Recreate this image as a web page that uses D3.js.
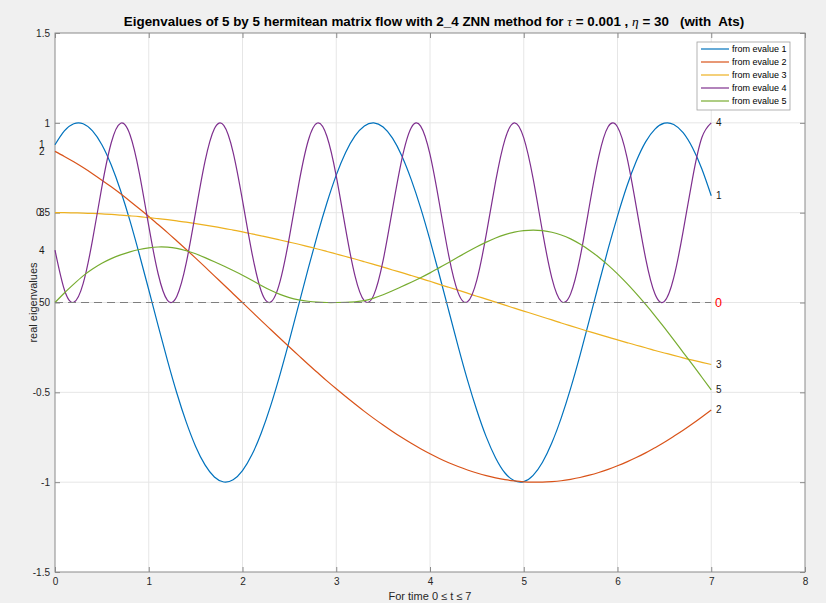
<!DOCTYPE html>
<html>
<head>
<meta charset="utf-8">
<script src="https://cdn.jsdelivr.net/npm/d3@7"></script>
<style>
  html, body { margin: 0; padding: 0; background: #f0f0f0; }
  svg { display: block; font-family: "Liberation Sans", Arial, Helvetica, sans-serif; }
</style>
</head>
<body>
<svg id="chart" width="826" height="603"></svg>
<script>
// ---------------- data ----------------
const times = [0,0.1,0.2,0.3,0.4,0.5,0.6,0.7,0.8,0.9,1,1.1,1.2,1.3,1.4,1.5,1.6,1.7,1.8,1.9,2,2.1,2.2,2.3,2.4,2.5,2.6,2.7,2.8,2.9,3,3.1,3.2,3.3,3.4,3.5,3.6,3.7,3.8,3.9,4,4.1,4.2,4.3,4.4,4.5,4.6,4.7,4.8,4.9,5,5.1,5.2,5.3,5.4,5.5,5.6,5.7,5.8,5.9,6,6.1,6.2,6.3,6.4,6.5,6.6,6.7,6.8,6.9,7];

const evalue1 = [0.878,0.955,0.995,0.995,0.955,0.878,0.765,0.622,0.454,0.267,
  0.071,-0.129,-0.323,-0.505,-0.666,-0.801,-0.904,-0.971,-0.999,-0.987,
  -0.936,-0.848,-0.726,-0.575,-0.401,-0.211,-0.012,0.187,0.378,0.554,
  0.709,0.835,0.927,0.983,1.000,0.977,0.915,0.816,0.684,0.527,
  0.347,0.153,-0.046,-0.244,-0.432,-0.601,-0.748,-0.865,-0.949,-0.992,
  -0.997,-0.962,-0.889,-0.781,-0.642,-0.478,-0.294,-0.097,0.103,0.298,
  0.481,0.647,0.786,0.894,0.965,0.998,0.991,0.945,0.861,0.743,0.594];

const evalue2 = [0.841,0.813,0.783,0.751,0.717,0.681,0.644,0.605,0.564,0.522,
  0.479,0.434,0.389,0.342,0.295,0.247,0.198,0.148,0.099,0.049,
  -0.001,-0.051,-0.101,-0.150,-0.199,-0.248,-0.296,-0.344,-0.390,-0.436,
  -0.480,-0.523,-0.565,-0.606,-0.645,-0.682,-0.718,-0.752,-0.784,-0.814,
  -0.842,-0.868,-0.892,-0.913,-0.932,-0.949,-0.964,-0.976,-0.986,-0.993,
  -0.998,-1.000,-1.000,-0.997,-0.992,-0.984,-0.974,-0.961,-0.946,-0.929,
  -0.909,-0.887,-0.863,-0.837,-0.808,-0.778,-0.745,-0.711,-0.675,-0.637,-0.598];

const evalue3 = [0.500,0.500,0.499,0.498,0.496,0.493,0.490,0.486,0.482,0.478,
  0.472,0.467,0.461,0.454,0.447,0.439,0.431,0.422,0.413,0.403,
  0.393,0.382,0.371,0.360,0.348,0.336,0.324,0.311,0.298,0.284,
  0.270,0.256,0.242,0.227,0.212,0.197,0.181,0.166,0.150,0.134,
  0.118,0.101,0.085,0.069,0.052,0.035,0.019,0.002,-0.015,-0.031,
  -0.048,-0.064,-0.081,-0.097,-0.114,-0.130,-0.146,-0.162,-0.177,-0.193,
  -0.208,-0.223,-0.238,-0.252,-0.267,-0.281,-0.294,-0.308,-0.321,-0.333,-0.345];

const evalue4 = [0.291,0.071,0.001,0.105,0.347,0.643,0.889,0.998,0.934,0.719,
  0.426,0.160,0.012,0.035,0.220,0.503,0.785,0.967,0.986,0.836,
  0.568,0.278,0.063,0.002,0.116,0.364,0.659,0.899,0.999,0.925,
  0.704,0.410,0.148,0.009,0.041,0.234,0.520,0.798,0.973,0.982,
  0.824,0.551,0.261,0.055,0.004,0.126,0.379,0.674,0.908,1.000,
  0.916,0.689,0.394,0.136,0.006,0.048,0.248,0.537,0.812,0.978,
  0.977,0.811,0.534,0.246,0.047,0.006,0.138,0.396,0.690,0.918,1.000];

const evalue5 = [0.000,0.053,0.102,0.148,0.186,0.218,0.244,0.265,0.282,0.295,
  0.304,0.309,0.308,0.301,0.288,0.271,0.250,0.227,0.203,0.178,
  0.152,0.124,0.095,0.068,0.045,0.027,0.015,0.007,0.002,0.000,
  0.000,0.001,0.004,0.010,0.024,0.043,0.065,0.089,0.113,0.138,
  0.165,0.194,0.223,0.253,0.282,0.310,0.336,0.359,0.378,0.392,
  0.400,0.403,0.400,0.391,0.376,0.354,0.325,0.291,0.252,0.208,
  0.159,0.106,0.049,-0.011,-0.074,-0.140,-0.208,-0.277,-0.346,-0.416,-0.486];

const seriesNames = ["from evalue 1","from evalue 2","from evalue 3","from evalue 4","from evalue 5"];
const seriesTags = ["1","2","3","4","5"];
const seriesColors = ["#0072BD","#D95319","#EDB120","#7E2F8E","#77AC30"];
const seriesValues = [evalue1, evalue2, evalue3, evalue4, evalue5];

const xTicks = [0,1,2,3,4,5,6,7,8];
const xTickLabels = ["0","1","2","3","4","5","6","7","8"];
const yTicks = [-1.5,-1,-0.5,0,0.5,1,1.5];
const yTickLabels = ["-1.5","-1","-0.5","0","0.5","1","1.5"];

const titleText = "Eigenvalues of 5 by 5 hermitean matrix flow with 2_4 ZNN method for ";
const xLabel = "For time 0 \u2264 t \u2264 7";
const yLabel = "real eigenvalues";

// ---------------- layout ----------------
const svg = d3.select("#chart");
const L = 55, R = 805, T = 33, B = 572;
const x = d3.scaleLinear().domain([0, 8]).range([L, R]);
const y = d3.scaleLinear().domain([-1.5, 1.5]).range([B, T]);

svg.append("rect").attr("width", 826).attr("height", 603).attr("fill", "#f0f0f0");
svg.append("rect").attr("x", L).attr("y", T).attr("width", R - L).attr("height", B - T).attr("fill", "#ffffff");

// grid
const grid = svg.append("g").attr("class", "grid");
grid.selectAll("line.gx").data(xTicks.slice(1, -1)).join("line")
  .attr("x1", d => x(d)).attr("x2", d => x(d)).attr("y1", T).attr("y2", B)
  .attr("stroke", "#e6e6e6").attr("stroke-width", 1);
grid.selectAll("line.gy").data(yTicks.slice(1, -1)).join("line")
  .attr("y1", d => y(d)).attr("y2", d => y(d)).attr("x1", L).attr("x2", R)
  .attr("stroke", "#e6e6e6").attr("stroke-width", 1);

// axes
const axisColor = "#8a8a8a";
function styleAxis(g) {
  g.select(".domain").remove();
  g.selectAll(".tick line").attr("stroke", axisColor);
  g.selectAll(".tick text").attr("fill", "#262626").attr("font-size", 10);
}
svg.append("g").attr("transform", `translate(0,${B})`)
  .call(d3.axisBottom(x).tickValues(xTicks).tickFormat((d, i) => xTickLabels[i]).tickSizeInner(-5).tickSizeOuter(0).tickPadding(6))
  .call(styleAxis);
svg.append("g").attr("transform", `translate(0,${T})`)
  .call(d3.axisTop(x).tickValues(xTicks).tickFormat("").tickSizeInner(-5).tickSizeOuter(0))
  .call(styleAxis);
svg.append("g").attr("transform", `translate(${L},0)`)
  .call(d3.axisLeft(y).tickValues(yTicks).tickFormat((d, i) => yTickLabels[i]).tickSizeInner(-5).tickSizeOuter(0).tickPadding(5))
  .call(styleAxis);
svg.append("g").attr("transform", `translate(${R},0)`)
  .call(d3.axisRight(y).tickValues(yTicks).tickFormat("").tickSizeInner(-5).tickSizeOuter(0))
  .call(styleAxis);

svg.append("rect").attr("x", L).attr("y", T).attr("width", R - L).attr("height", B - T)
  .attr("fill", "none").attr("stroke", axisColor).attr("stroke-width", 1);

// curves
const line = d3.line().x((d, i) => x(times[i])).y(d => y(d)).curve(d3.curveNatural);
const curves = svg.append("g");
seriesValues.forEach((vals, s) => {
  curves.append("path").datum(vals).attr("d", line)
    .attr("fill", "none").attr("stroke", seriesColors[s]).attr("stroke-width", 1.2);
});

// dashed zero line
svg.append("line").attr("x1", x(0)).attr("x2", x(7)).attr("y1", y(0)).attr("y2", y(0))
  .attr("stroke", "#7f7f7f").attr("stroke-width", 1.2).attr("stroke-dasharray", "8,5");

// start and end labels
const labels = svg.append("g").attr("font-size", 10).attr("fill", "#1a1a1a");
seriesValues.forEach((vals, s) => {
  labels.append("text").attr("x", x(-0.17)).attr("y", y(vals[0])).attr("dy", "0.35em").text(seriesTags[s]);
  labels.append("text").attr("x", x(7.05)).attr("y", y(vals[vals.length - 1])).attr("dy", "0.35em").text(seriesTags[s]);
});
svg.append("text").attr("x", x(7.04)).attr("y", y(0)).attr("dy", "0.36em")
  .attr("font-size", 12.5).attr("fill", "#ff0000").text("0");

// title
const title = svg.append("text").attr("x", (L + R) / 2 + 4).attr("y", 26)
  .attr("text-anchor", "middle").attr("font-size", 13.4).attr("font-weight", "bold").attr("fill", "#000")
  .attr("xml:space", "preserve");
title.append("tspan").text(titleText);
title.append("tspan").attr("font-style", "italic").attr("font-family", "'Times New Roman', 'Liberation Serif', serif").attr("font-weight", "normal").text("\u03C4");
title.append("tspan").text(" = 0.001 , ");
title.append("tspan").attr("font-style", "italic").attr("font-family", "'Times New Roman', 'Liberation Serif', serif").attr("font-weight", "normal").text("\u03B7");
title.append("tspan").text(" = 30   (with  Ats)");

// axis labels
svg.append("text").attr("x", (L + R) / 2).attr("y", 600).attr("text-anchor", "middle")
  .attr("font-size", 11).attr("fill", "#262626").text(xLabel);
svg.append("text").attr("transform", `translate(33,${(T + B) / 2}) rotate(-90)`).attr("text-anchor", "middle")
  .attr("dy", "0.35em").attr("font-size", 11).attr("fill", "#262626").text(yLabel);

// legend
const lg = svg.append("g");
lg.append("rect").attr("x", 697).attr("y", 42).attr("width", 93).attr("height", 68)
  .attr("fill", "#ffffff").attr("stroke", "#a0a0a0").attr("stroke-width", 0.8);
seriesNames.forEach((name, s) => {
  const yy = 49 + s * 13;
  lg.append("line").attr("x1", 701).attr("x2", 729).attr("y1", yy).attr("y2", yy)
    .attr("stroke", seriesColors[s]).attr("stroke-width", 1.2);
  lg.append("text").attr("x", 732).attr("y", yy).attr("dy", "0.35em")
    .attr("font-size", 9).attr("fill", "#000").text(name);
});
</script>
</body>
</html>
